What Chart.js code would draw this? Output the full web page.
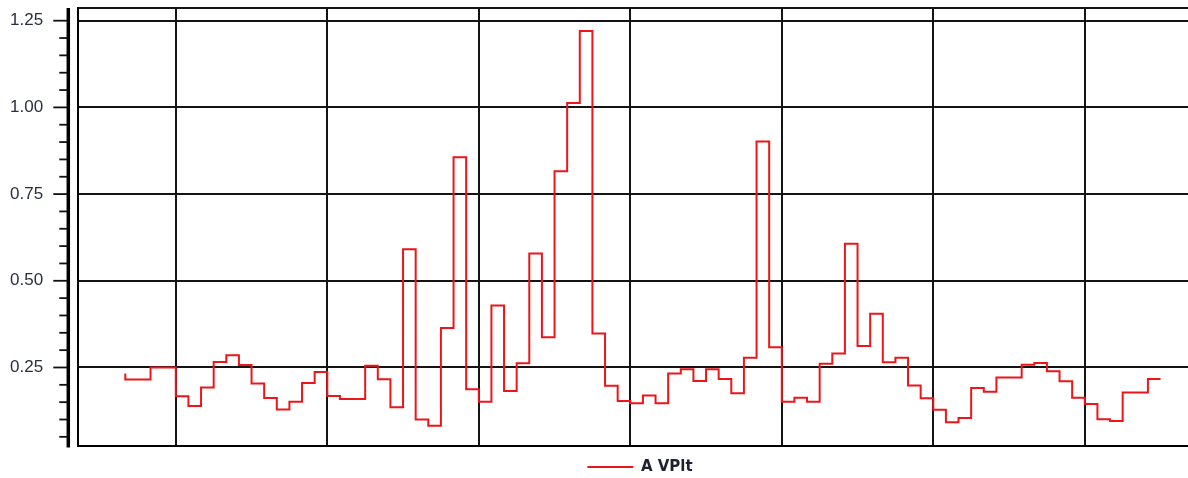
<!DOCTYPE html>
<html>
<head>
<meta charset="utf-8">
<title>A VPlt</title>
<script src="https://cdn.jsdelivr.net/npm/chart.js@4"></script>
<style>
  html, body { margin: 0; padding: 0; background: #ffffff; overflow: hidden; }
  #wrap { width: 1280px; height: 478px; }
</style>
</head>
<body>
<div id="wrap"><canvas id="chart" width="1280" height="478"></canvas></div>
<script>
// Sample times (minutes from the start of the record, 5-minute interval ends)
const sampleMinutes = [
  0, 5, 10, 15, 20, 25, 30, 35, 40, 45, 50, 55, 60, 65, 70, 75, 80, 85, 90, 95,
  100, 105, 110, 115, 120, 125, 130, 135, 140, 145, 150, 155, 160, 165, 170, 175, 180, 185, 190, 195,
  200, 205, 210, 215, 220, 225, 230, 235, 240, 245, 250, 255, 260, 265, 270, 275, 280, 285, 290, 295,
  300, 305, 310, 315, 320, 325, 330, 335, 340, 345, 350, 355, 360, 365, 370, 375, 380, 385, 390, 395,
  400, 405, 410
];

// A VPlt readings for each interval
const vpltValues = [
  0.233, 0.215, 0.215, 0.250, 0.250, 0.167, 0.139, 0.192, 0.266, 0.285,
  0.257, 0.204, 0.162, 0.129, 0.151, 0.205, 0.237, 0.168, 0.159, 0.159,
  0.255, 0.216, 0.135, 0.591, 0.100, 0.082, 0.364, 0.856, 0.187, 0.151,
  0.429, 0.182, 0.262, 0.579, 0.337, 0.816, 1.013, 1.220, 0.348, 0.197,
  0.153, 0.147, 0.169, 0.147, 0.233, 0.245, 0.211, 0.245, 0.217, 0.176,
  0.278, 0.902, 0.308, 0.151, 0.163, 0.151, 0.261, 0.290, 0.607, 0.312,
  0.405, 0.265, 0.278, 0.198, 0.161, 0.128, 0.092, 0.104, 0.191, 0.180,
  0.221, 0.221, 0.258, 0.263, 0.239, 0.210, 0.163, 0.145, 0.101, 0.096,
  0.178, 0.178, 0.217
];

// Labelled value ticks and hourly vertical grid positions
const yTickValues = [0.25, 0.50, 0.75, 1.00, 1.25];
const yMinorStep = 0.05;
const hourGridMinutes = [20, 80, 140, 200, 260, 320, 380, 440];

const Y_MIN = 0.0236;
const Y_MAX = 1.2866;
const X_MIN = -18.73;
const X_MAX = 453.35;

const seriesName = 'A VPlt';
const lineColor = 'rgb(236, 22, 26)';
const inkColor = '#141414';

Chart.defaults.font.family = "'Liberation Sans', Arial, sans-serif";
Chart.defaults.font.size = 16;
Chart.defaults.color = '#222222';

// Detached value axis: heavy spine with long major and short minor ticks
const valueAxisPlugin = {
  id: 'valueAxis',
  afterDraw(chart) {
    const { ctx, chartArea } = chart;
    const y = chart.scales.y;
    const spineX = chartArea.left - 9.7;
    ctx.save();
    ctx.strokeStyle = '#000000';
    ctx.lineWidth = 3.5;
    ctx.beginPath();
    ctx.moveTo(spineX, chartArea.top);
    ctx.lineTo(spineX, chartArea.bottom + 1.5);
    ctx.stroke();

    ctx.lineWidth = 1.8;
    ctx.strokeStyle = '#111111';
    const steps = Math.round(Y_MAX / yMinorStep);
    for (let i = 1; i <= steps; i++) {
      const v = i * yMinorStep;
      if (v < Y_MIN || v > Y_MAX) continue;
      const py = y.getPixelForValue(v);
      const major = yTickValues.some(t => Math.abs(t - v) < 1e-6);
      ctx.beginPath();
      ctx.moveTo(chartArea.left - (major ? 24.7 : 18.7), py);
      ctx.lineTo(spineX - 1, py);
      ctx.stroke();
    }
    ctx.restore();
  }
};

const points = sampleMinutes.map((t, i) => ({ x: t, y: vpltValues[i] }));

new Chart(document.getElementById('chart'), {
  type: 'line',
  data: {
    datasets: [{
      label: seriesName,
      data: points,
      stepped: 'after',
      borderColor: lineColor,
      backgroundColor: lineColor,
      borderWidth: 2,
      pointRadius: 0,
      fill: false
    }]
  },
  options: {
    responsive: false,
    animation: false,
    events: [],
    layout: { padding: { top: 8, right: 10, bottom: 0, left: 10 } },
    plugins: {
      tooltip: { enabled: false },
      legend: {
        position: 'bottom',
        maxHeight: 32,
        labels: {
          usePointStyle: true,
          pointStyle: 'line',
          pointStyleWidth: 46,
          padding: 13.5,
          color: '#1e2230',
          font: { family: "'DejaVu Sans', Verdana, sans-serif", size: 15, weight: 'bold' }
        }
      }
    },
    scales: {
      x: {
        type: 'linear',
        min: X_MIN,
        max: X_MAX,
        afterBuildTicks: (scale) => {
          scale.ticks = hourGridMinutes.map(v => ({ value: v }));
        },
        ticks: { display: false },
        grid: { color: inkColor, lineWidth: 2, drawTicks: false },
        border: { display: true, color: '#000000', width: 2 }
      },
      y: {
        type: 'linear',
        min: Y_MIN,
        max: Y_MAX,
        afterBuildTicks: (scale) => {
          scale.ticks = yTickValues.concat([Y_MAX]).map(v => ({ value: v }));
        },
        afterFit: (scale) => { scale.width = 68; },
        ticks: {
          padding: 0,
          crossAlign: 'far',
          color: '#2a2f3a',
          font: { size: 17, lineHeight: 0.8 },
          callback: (v) => (v === Y_MAX ? '' : Number(v).toFixed(2))
        },
        grid: { color: inkColor, lineWidth: 2, drawTicks: false },
        border: { display: true, color: '#000000', width: 2 }
      }
    }
  },
  plugins: [valueAxisPlugin]
});
</script>
</body>
</html>
